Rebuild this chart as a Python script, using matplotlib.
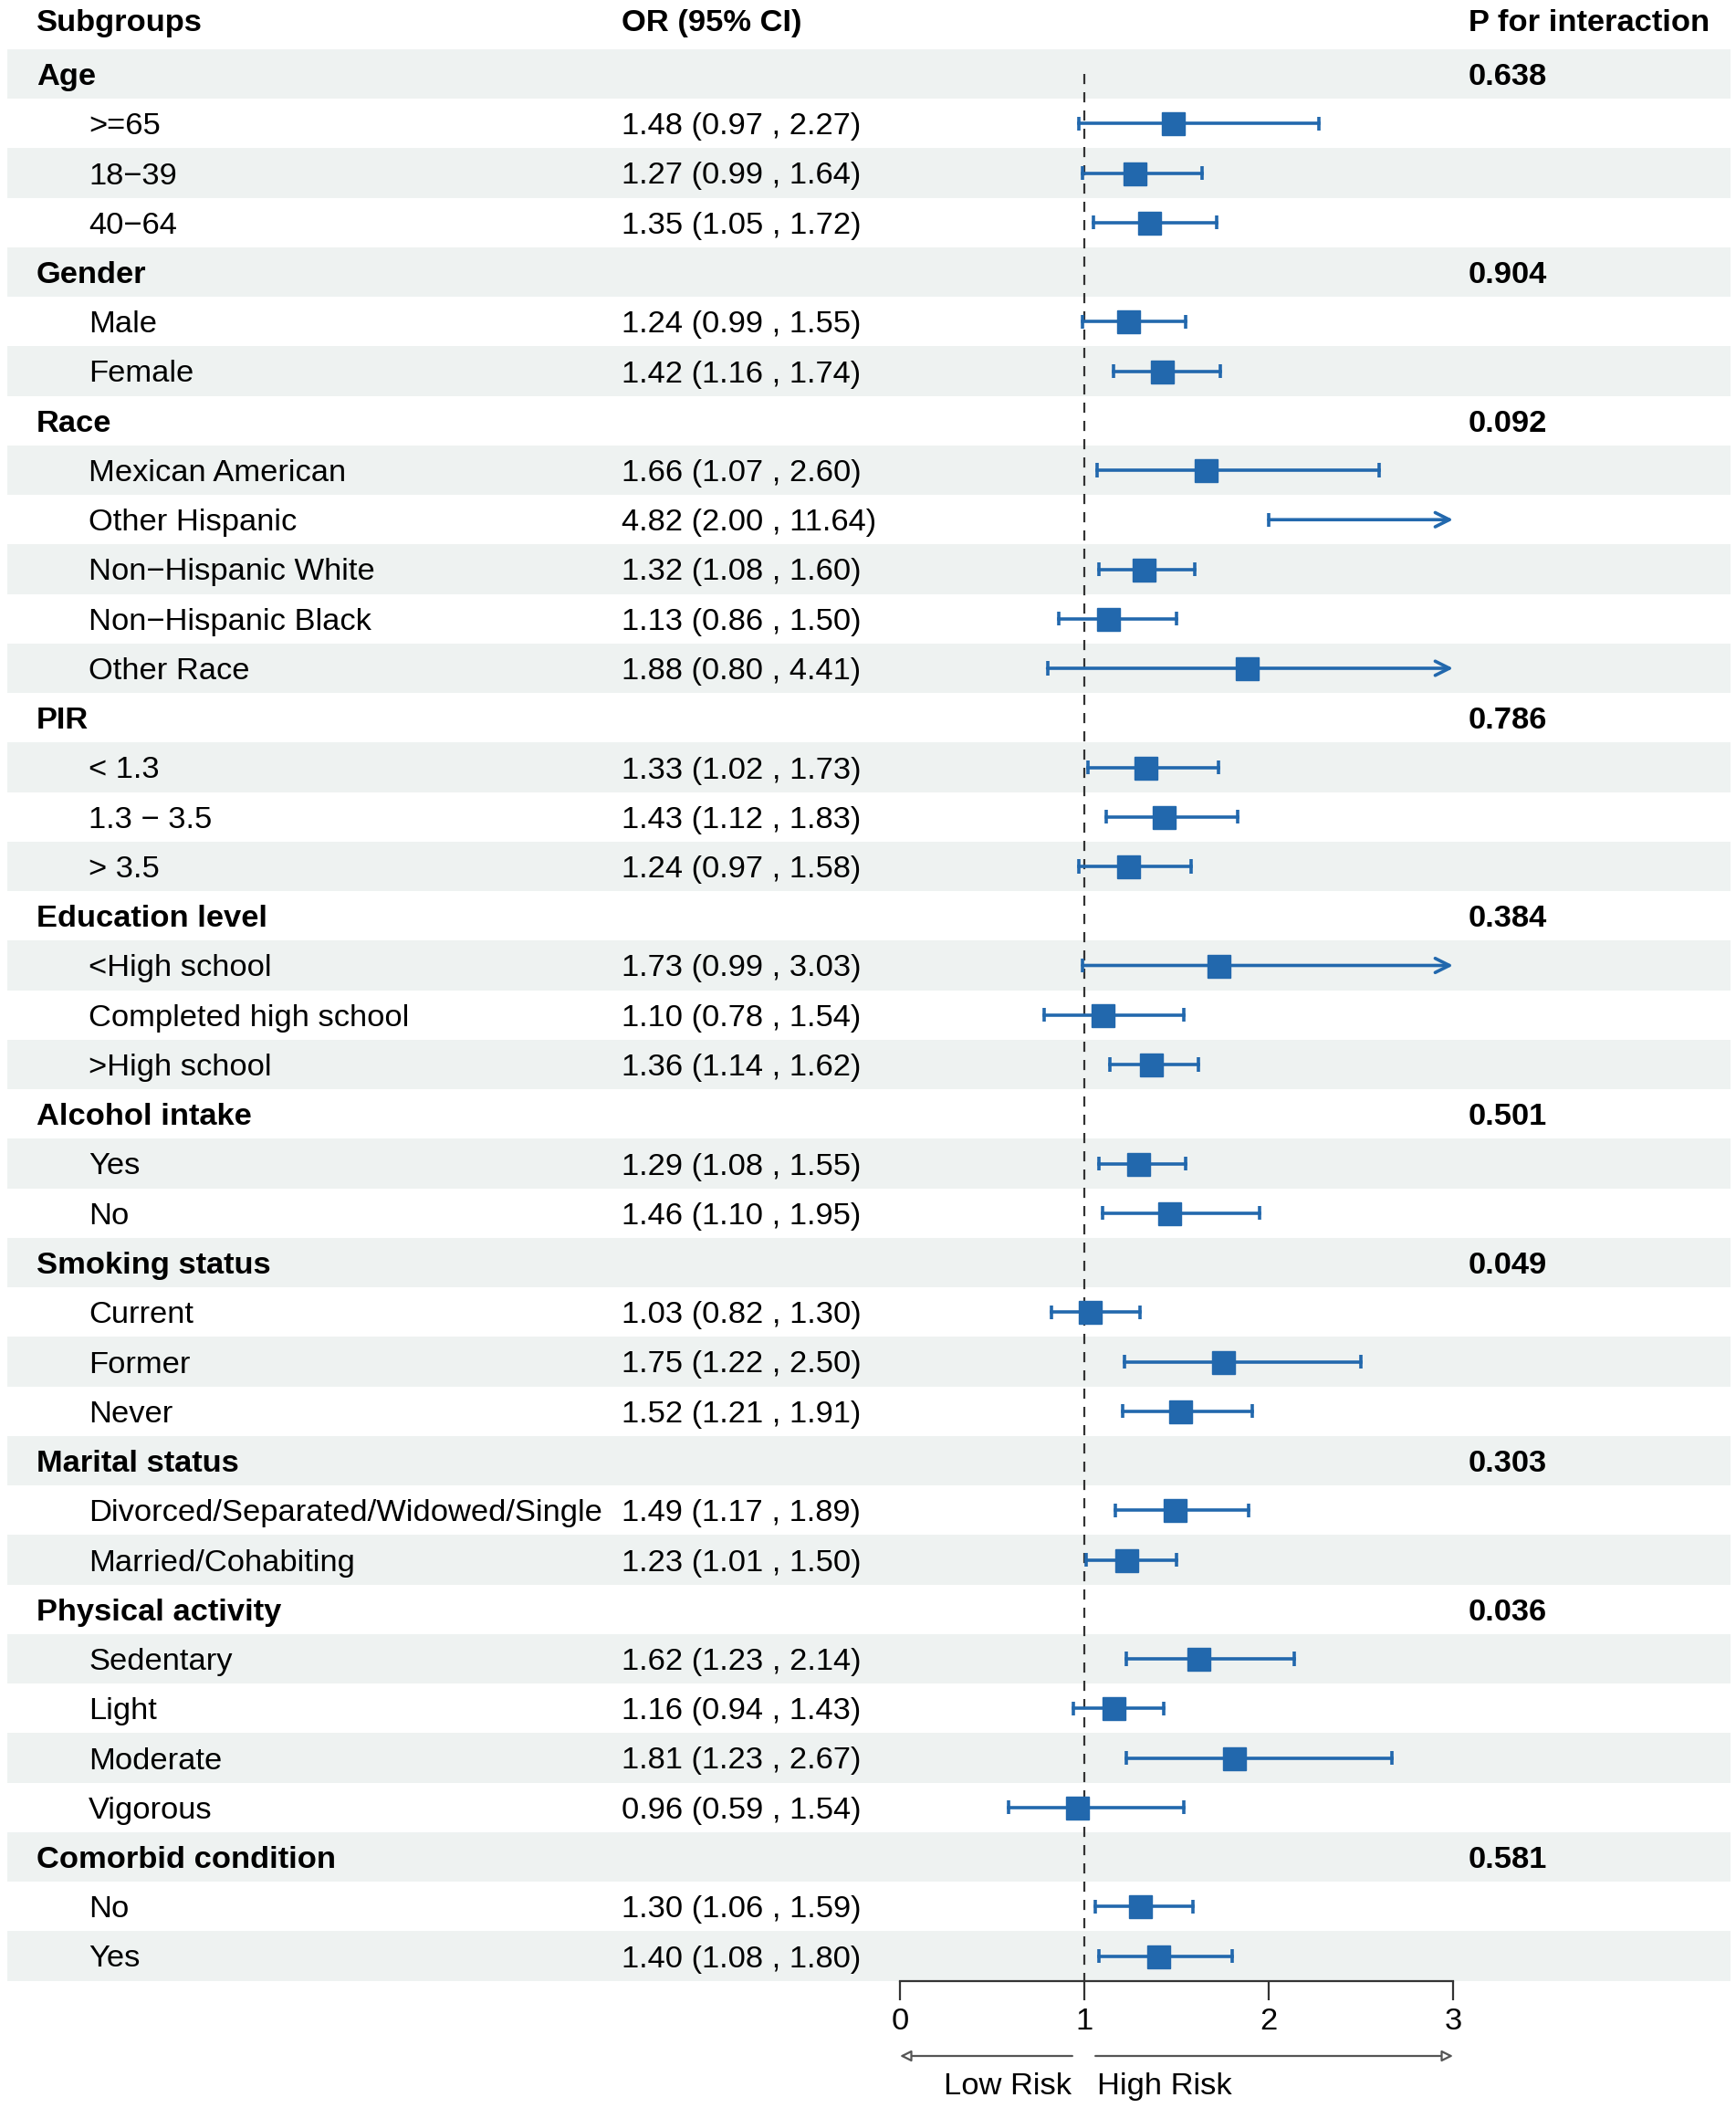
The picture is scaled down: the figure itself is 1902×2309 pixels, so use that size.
import matplotlib
matplotlib.use('Agg')
import matplotlib.pyplot as plt

plt.rcParams['font.family'] = ['Liberation Sans', 'DejaVu Sans']

# groups, p for interaction, and subgroup rows
groups = ['Age', 'Gender', 'Race', 'PIR', 'Education level', 'Alcohol intake',
          'Smoking status', 'Marital status', 'Physical activity', 'Comorbid condition']
p_inter = ['0.638', '0.904', '0.092', '0.786', '0.384', '0.501', '0.049', '0.303', '0.036', '0.581']
sub_labels = [
    ['>=65', '18−39', '40−64'],
    ['Male', 'Female'],
    ['Mexican American', 'Other Hispanic', 'Non−Hispanic White', 'Non−Hispanic Black', 'Other Race'],
    ['< 1.3', '1.3 − 3.5', '> 3.5'],
    ['<High school', 'Completed high school', '>High school'],
    ['Yes', 'No'],
    ['Current', 'Former', 'Never'],
    ['Divorced/Separated/Widowed/Single', 'Married/Cohabiting'],
    ['Sedentary', 'Light', 'Moderate', 'Vigorous'],
    ['No', 'Yes'],
]
or_est = [
    [1.48, 1.27, 1.35],
    [1.24, 1.42],
    [1.66, 4.82, 1.32, 1.13, 1.88],
    [1.33, 1.43, 1.24],
    [1.73, 1.10, 1.36],
    [1.29, 1.46],
    [1.03, 1.75, 1.52],
    [1.49, 1.23],
    [1.62, 1.16, 1.81, 0.96],
    [1.30, 1.40],
]
ci_low = [
    [0.97, 0.99, 1.05],
    [0.99, 1.16],
    [1.07, 2.00, 1.08, 0.86, 0.80],
    [1.02, 1.12, 0.97],
    [0.99, 0.78, 1.14],
    [1.08, 1.10],
    [0.82, 1.22, 1.21],
    [1.17, 1.01],
    [1.23, 0.94, 1.23, 0.59],
    [1.06, 1.08],
]
ci_high = [
    [2.27, 1.64, 1.72],
    [1.55, 1.74],
    [2.60, 11.64, 1.60, 1.50, 4.41],
    [1.73, 1.83, 1.58],
    [3.03, 1.54, 1.62],
    [1.55, 1.95],
    [1.30, 2.50, 1.91],
    [1.89, 1.50],
    [2.14, 1.43, 2.67, 1.54],
    [1.59, 1.80],
]

W, H = 1902, 2309
blue = '#2268ad'
shade = '#eef2f1'
fs = 24.8
xmax = 3
va = 'center_baseline'

fig = plt.figure(figsize=(W / 100, H / 100), dpi=100)
n_rows = len(groups) + sum(len(s) for s in sub_labels)
row_h = 54.25
row0 = 81
y_top = -row0 / row_h
y_bot = n_rows - 0.5
ax_bottom = (H - (row0 + row_h * y_bot)) / H

bg = fig.add_axes([0, ax_bottom, 1, 1 - ax_bottom])
bg.set_xlim(0, 1)
bg.set_ylim(y_bot, y_top)
bg.axis('off')

ax = fig.add_axes([986 / W, ax_bottom, 606 / W, 1 - ax_bottom])
ax.set_xlim(0, xmax)
ax.set_ylim(y_bot, y_top)
ax.patch.set_alpha(0)
for s in ['top', 'left', 'right']:
    ax.spines[s].set_visible(False)
ax.spines['bottom'].set_color('#333333')
ax.spines['bottom'].set_linewidth(1.6)
ax.spines['bottom'].set_bounds(0, 3)
ax.set_yticks([])
ax.set_xticks([0, 1, 2, 3])
ax.tick_params(axis='x', direction='out', length=15, width=1.6, color='#333333',
               labelsize=fs, pad=6)

# header
hy = (22 - row0) / row_h
bg.text(40 / W, hy, 'Subgroups', fontsize=fs, fontweight='bold', va=va)
bg.text(681 / W, hy, 'OR (95% CI)', fontsize=fs, fontweight='bold', va=va)
bg.text(1609 / W, hy, 'P for interaction', fontsize=fs, fontweight='bold', va=va)

row = 0
for g, p, labs, ests, los, his in zip(groups, p_inter, sub_labels, or_est, ci_low, ci_high):
    if row % 2 == 0:
        bg.axhspan(row - 0.5, row + 0.5, xmin=0.004, xmax=0.997, color=shade, lw=0, zorder=0)
    bg.text(40 / W, row, g, fontsize=fs, fontweight='bold', va=va)
    bg.text(1609 / W, row, p, fontsize=fs, fontweight='bold', va=va)
    row += 1
    for lab, est, lo, hi in zip(labs, ests, los, his):
        if row % 2 == 0:
            bg.axhspan(row - 0.5, row + 0.5, xmin=0.004, xmax=0.997, color=shade, lw=0, zorder=0)
        bg.text(97 / W, row, lab, fontsize=fs, va=va)
        bg.text(681 / W, row, f'{est:.2f} ({lo:.2f} , {hi:.2f})', fontsize=fs, va=va)
        # whisker
        ax.plot([lo, lo], [row - 0.14, row + 0.14], color=blue, lw=2.6, solid_capstyle='butt', zorder=3)
        if hi > xmax:
            ax.annotate('', xy=(xmax, row), xytext=(lo, row),
                        arrowprops=dict(arrowstyle='->', color=blue, lw=2.6,
                                        mutation_scale=28, shrinkA=0, shrinkB=0), zorder=3)
        else:
            ax.plot([lo, hi], [row, row], color=blue, lw=2.6, zorder=3)
            ax.plot([hi, hi], [row - 0.14, row + 0.14], color=blue, lw=2.6, solid_capstyle='butt', zorder=3)
        if est <= xmax:
            ax.plot(est, row, marker='s', ms=18, color=blue, mec=blue, zorder=4)
        row += 1

# reference line
ax.plot([1, 1], [0, y_bot], color='#333333', lw=1.6, ls=(0, (5, 4)), zorder=2)

# risk arrows below axis
ya = (2252 - row0) / row_h
yt = (2282 - row0) / row_h
ax.annotate('', xy=(0, ya), xytext=(0.935, ya), annotation_clip=False,
            arrowprops=dict(arrowstyle='-|>', color='#555555', fc='white', lw=1.6,
                            mutation_scale=18, shrinkA=0, shrinkB=0))
ax.annotate('', xy=(3, ya), xytext=(1.06, ya), annotation_clip=False,
            arrowprops=dict(arrowstyle='-|>', color='#555555', fc='white', lw=1.6,
                            mutation_scale=18, shrinkA=0, shrinkB=0))
ax.text(0.93, yt, 'Low Risk', fontsize=fs, ha='right', va=va, clip_on=False)
ax.text(1.07, yt, 'High Risk', fontsize=fs, ha='left', va=va, clip_on=False)

fig.savefig('out.png', dpi=100)
